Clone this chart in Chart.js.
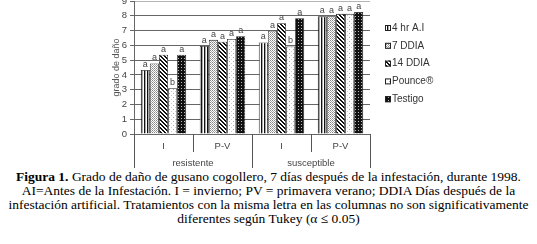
<!DOCTYPE html>
<html>
<head>
<meta charset="utf-8">
<script src="https://cdn.jsdelivr.net/npm/chart.js@4"></script>
<style>
  html, body { margin: 0; padding: 0; background: #fff; }
  #wrap { width: 537px; height: 170px; position: relative; }
  #caption {
    width: 537px; text-align: center; font-family: "Liberation Serif", "Times New Roman", serif;
    font-size: 13.5px; line-height: 14px; color: #000; white-space: nowrap;
  }
</style>
</head>
<body>
<div id="wrap"><canvas id="c" width="537" height="170"></canvas></div>
<div id="caption"><b>Figura 1.</b> Grado de daño de gusano cogollero, 7 días después de la infestación, durante 1998.<br>AI=Antes de la Infestación. I = invierno; PV = primavera verano; DDIA Días después de la<br>infestación artificial. Tratamientos con la misma letra en las columnas no son significativamente<br>diferentes según Tukey (α ≤ 0.05)</div>
<script>
const categories = ['I', 'P-V', 'I', 'P-V'];
const groups = ['resistente', 'susceptible'];
const seriesNames = ['4 hr A.I', '7 DDIA', '14 DDIA', 'Pounce®', 'Testigo'];
const hrAI    = [4.33, 5.95, 6.20, 7.96];
const dd7     = [4.77, 6.37, 6.99, 7.96];
const dd14    = [5.37, 6.25, 7.50, 8.13];
const pounce  = [3.10, 6.43, 5.92, 8.13];
const testigo = [5.37, 6.62, 7.83, 8.26];
const letters = [
    ['a', 'a', 'a', 'a'],
    ['a', 'a', 'a', 'a'],
    ['a', 'a', 'a', 'a'],
    ['b', 'a', 'b', 'a'],
    ['a', 'a', 'a', 'a']
];
const yTicks = [0, 1, 2, 3, 4, 5, 6, 7, 8, 9];

// small bitmap fills, rows of colours
function makePattern(rows) {
    const cv = document.createElement('canvas');
    cv.width = rows[0].length; cv.height = rows.length;
    const cx = cv.getContext('2d');
    rows.forEach((row, y) => row.forEach((col, x) => { cx.fillStyle = col; cx.fillRect(x, y, 1, 1); }));
    return cv.getContext('2d').createPattern(cv, 'repeat');
}
const K = '#111', G = '#888', L = '#ccc', W = '#fff', M = '#aaa';
const fills = [
    makePattern([[K, M, W], [K, M, W]]),
    makePattern([[G, W], [W, M]]),
    makePattern([[K, K, W, W], [W, K, K, W], [W, W, K, K], [K, W, W, K]]),
    makePattern([[W, W, W, W], [W, M, W, W], [W, W, W, W], [W, W, W, L]]),
    makePattern([[K, K, K], [K, '#bbb', K], [K, K, K]])
];
const seriesData = [hrAI, dd7, dd14, pounce, testigo];

const extras = {
    id: 'extras',
    afterDraw(chart) {
        const ctx = chart.ctx, a = chart.chartArea, x = chart.scales.x;
        ctx.save();
        ctx.strokeStyle = '#555';
        ctx.lineWidth = 1;
        const step = (a.right - a.left) / categories.length;
        for (let i = 0; i <= categories.length; i++) {
            const bx = Math.round(a.left + i * step) + 0.5;
            ctx.beginPath();
            ctx.moveTo(bx, a.bottom);
            ctx.lineTo(bx, i % 2 === 0 ? 168 : 152);
            ctx.stroke();
        }
        ctx.fillStyle = '#444';
        ctx.font = '9.5px "Liberation Sans", Arial, sans-serif';
        ctx.textAlign = 'center';
        ctx.textBaseline = 'middle';
        categories.forEach((c, i) => ctx.fillText(c, x.getPixelForValue(i), 146));
        groups.forEach((g, i) => ctx.fillText(g, (x.getPixelForValue(2 * i) + x.getPixelForValue(2 * i + 1)) / 2, 163));

        // significance letters
        ctx.font = '9px "Liberation Sans", Arial, sans-serif';
        ctx.textBaseline = 'bottom';
        chart.data.datasets.forEach((ds, di) => {
            chart.getDatasetMeta(di).data.forEach((bar, i) => {
                ctx.fillText(letters[di][i], bar.x, bar.y - 1);
            });
        });

        // legend
        ctx.textAlign = 'left';
        ctx.textBaseline = 'middle';
        ctx.font = '10px "Liberation Sans", Arial, sans-serif';
        seriesNames.forEach((n, i) => {
            const ly = 28 + i * 17.8;
            ctx.fillStyle = fills[i];
            ctx.fillRect(385, ly - 3, 6, 6);
            ctx.strokeStyle = '#222';
            ctx.strokeRect(385.5, ly - 2.5, 5, 5);
            ctx.fillStyle = '#333';
            ctx.fillText(n, 392, ly);
        });
        ctx.restore();
    }
};

new Chart(document.getElementById('c'), {
    type: 'bar',
    data: {
        labels: categories,
        datasets: seriesNames.map((n, i) => ({
            label: n,
            data: seriesData[i],
            backgroundColor: fills[i],
            borderColor: '#222',
            borderWidth: 0.8,
            categoryPercentage: 0.77,
            barPercentage: 1.0
        }))
    },
    options: {
        responsive: false,
        animation: false,
        devicePixelRatio: 1,
        layout: { padding: { left: 100, right: 167, top: 1, bottom: 36 } },
        plugins: { legend: { display: false }, tooltip: { enabled: false } },
        scales: {
            x: { display: false },
            y: {
                min: 0, max: 9,
                afterFit: s => { s.width = 34; s.paddingTop = 0; s.paddingBottom = 0; },
                afterBuildTicks: s => { s.ticks = yTicks.map(v => ({ value: v })); },
                grid: {
                    color: c => c.tick && c.tick.value === 9 ? '#b5b5b5' : '#666',
                    tickLength: 4,
                    tickColor: '#666'
                },
                border: { color: '#666' },
                ticks: { padding: 3, color: '#444', font: { family: '"Liberation Sans", Arial, sans-serif', size: 9.5 } },
                title: {
                    display: true, text: 'grado de daño', color: '#555',
                    padding: { top: 11, bottom: 0 },
                    font: { family: '"Liberation Sans", Arial, sans-serif', size: 9 }
                }
            }
        }
    },
    plugins: [extras]
});
</script>
</body>
</html>
